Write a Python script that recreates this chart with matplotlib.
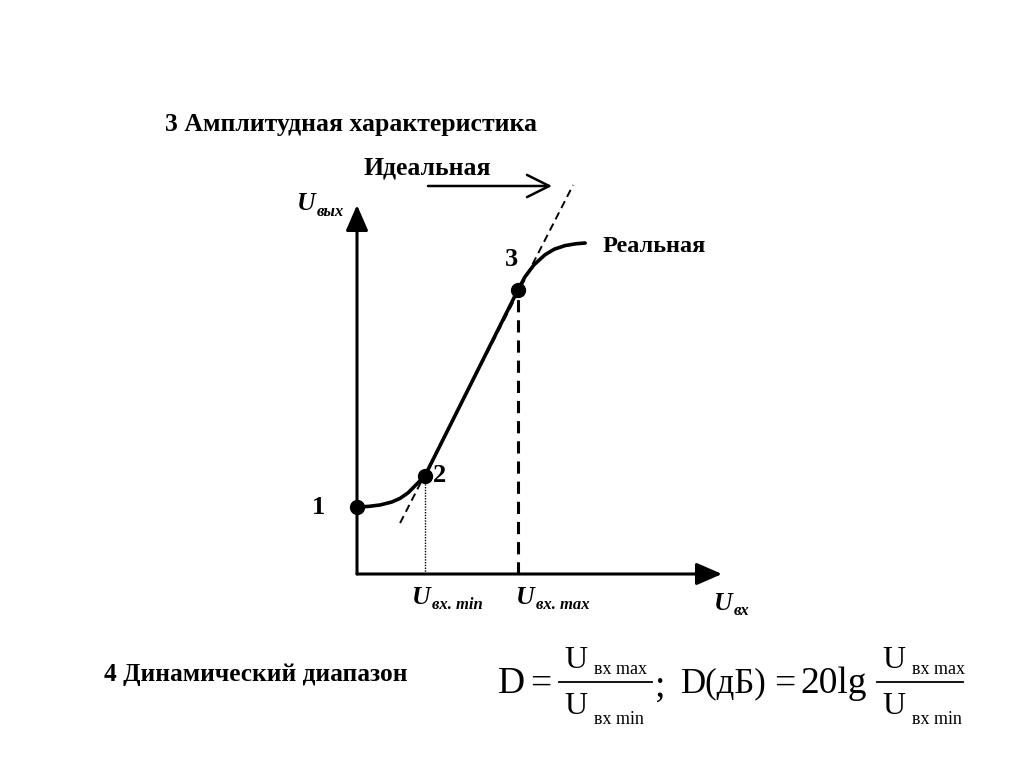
import matplotlib
matplotlib.use("Agg")
import matplotlib.pyplot as plt

real_x = [0, 0.3, 0.63, 0.95, 1.18, 1.4, 1.6, 1.86, 4.41, 4.6, 4.85, 5.15, 5.4, 5.7, 6.0, 6.25]
real_y = [1.82, 1.83, 1.87, 1.95, 2.05, 2.2, 2.4, 2.66, 7.70, 8.05, 8.38, 8.65, 8.80, 8.90, 8.95, 8.97]
# ideal (linear) characteristic
ideal_x = [1.18, 5.92]
ideal_y = [1.38, 10.54]
# marked points 1, 2, 3
pt_x = [0, 1.86, 4.41]
pt_y = [1.82, 2.66, 7.70]
pt_labels = ["1", "2", "3"]

serif = "Liberation Serif"
W, H = 1024, 767

fig = plt.figure(figsize=(10.24, 7.67), dpi=100)
fig.patch.set_facecolor("white")

# chart axes: origin at (357, 574) px, arrow tips at x=722 and y=205
ax = fig.add_axes([357 / W, (H - 574) / H, (722 - 357) / W, (574 - 205) / H])
ax.set_xlim(0, 10)
ax.set_ylim(0, 10)
ax.axis("off")

# axes with arrows
head = "-|>,head_length=0.78,head_width=0.34"
for tip in [(10, 0), (0, 10)]:
    ax.annotate("", xy=tip, xytext=(0, 0), annotation_clip=False,
                arrowprops=dict(arrowstyle=head, lw=2.2, color="black",
                                shrinkA=0, shrinkB=0, mutation_scale=20))

ax.plot(ideal_x, ideal_y, color="black", lw=1.4, ls=(0, (4, 2.5)), clip_on=False)
ax.plot(real_x, real_y, color="black", lw=2.6, solid_capstyle="round", clip_on=False)

# projections to the x axis
ax.plot([pt_x[1], pt_x[1]], [0, pt_y[1]], color="black", lw=1.0, ls=(0, (1, 1)))
ax.plot([pt_x[2], pt_x[2]], [0, pt_y[2]], color="black", lw=2.2, ls=(0, (4, 2.6)))

ax.plot(pt_x, pt_y, "o", color="black", ms=10, clip_on=False, zorder=5)

# overlay in pixel coordinates for text
ov = fig.add_axes([0, 0, 1, 1])
ov.set_xlim(0, W)
ov.set_ylim(H, 0)
ov.axis("off")

ov.text(165, 125, "3 Амплитудная характеристика", family=serif, weight="bold",
        fontsize=18.5, va="center", ha="left")
ov.text(104, 674, "4 Динамический диапазон", family=serif, weight="bold",
        fontsize=18.3, va="center", ha="left")

ov.text(363, 168, "Идеальная", family=serif, weight="bold", fontsize=18.5, va="center")
ov.annotate("", xy=(552, 186), xytext=(428, 186),
            arrowprops=dict(arrowstyle="->,head_length=0.8,head_width=0.4", lw=1.8,
                            color="black", shrinkA=0, shrinkB=0, mutation_scale=20))
ov.text(603, 246, "Реальная", family=serif, weight="bold", fontsize=17.5, va="center")

for lab, (px, py) in zip(pt_labels, [(319, 508), (440, 475), (511, 259)]):
    ov.text(px, py, lab, family=serif, weight="bold", fontsize=19, va="center", ha="center")


def u_label(x, y, sub):
    ov.text(x, y, "U", family=serif, weight="bold", style="italic", fontsize=18.5,
            va="center", ha="left")
    ov.text(x + 20, y + 8, sub, family=serif, weight="bold", style="italic",
            fontsize=12, va="center", ha="left")


u_label(297, 204, "вых")
u_label(412, 597, "вх. min")
u_label(516, 597, "вх. max")
u_label(714, 603, "вх")

# formula
fs_big, fs_u, fs_sub = 27, 23, 13
cy = 682
ov.text(498, cy + 2, "D", family=serif, fontsize=fs_big, va="center", ha="left")
ov.text(541, cy + 2, "=", family=serif, fontsize=fs_big, va="center", ha="center")
ov.text(681, cy + 2, "D(дБ)", family=serif, fontsize=25, va="center", ha="left")
ov.text(785, cy + 2, "=", family=serif, fontsize=fs_big, va="center", ha="center")
ov.text(800, cy + 2, "20lg", family=serif, fontsize=fs_big, va="center", ha="left")
ov.text(655, cy + 4, ";", family=serif, fontsize=fs_big, va="center", ha="left")


def frac(x0, x1):
    ov.plot([x0, x1], [cy, cy], color="black", lw=1.3)
    ov.text(x0 + 5, cy - 22, "U", family=serif, fontsize=fs_u, va="center", ha="left")
    ov.text(x0 + 35, cy - 12, "вх max", family=serif, fontsize=fs_sub, va="center", ha="left")
    ov.text(x0 + 5, cy + 25, "U", family=serif, fontsize=fs_u, va="center", ha="left")
    ov.text(x0 + 35, cy + 38, "вх min", family=serif, fontsize=fs_sub, va="center", ha="left")


frac(559, 652)
frac(877, 963)

fig.savefig("out.png", dpi=100, facecolor="white")
